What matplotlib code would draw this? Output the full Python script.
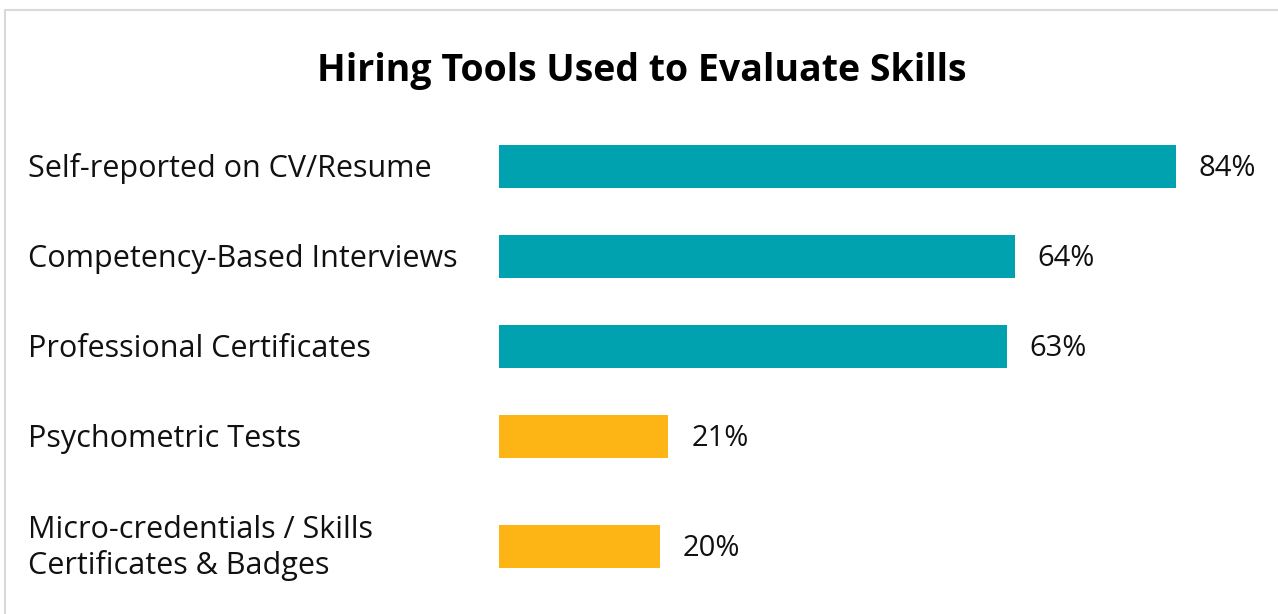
import matplotlib.pyplot as plt
from matplotlib.patches import Rectangle
from matplotlib.transforms import blended_transform_factory, offset_copy

plt.rcParams['font.family'] = ['Open Sans', 'DejaVu Sans']

title = "Hiring Tools Used to Evaluate Skills"
categories = ["Self-reported on CV/Resume",
              "Competency-Based Interviews",
              "Professional Certificates",
              "Psychometric Tests",
              "Micro-credentials / Skills\nCertificates & Badges"]
values = [84, 64, 63, 21, 20]
colors = ["#01A2B0", "#01A2B0", "#01A2B0", "#FDB515", "#FDB515"]

# row layout: last label spans two lines, so it gets a bit more room
rows = [0, 1, 2, 3, 4.22]

W, H = 1278, 614
fig = plt.figure(figsize=(W / 100, H / 100), dpi=100)
fig.patch.set_facecolor('white')

# light grey frame round the card
fig.patches.append(Rectangle((5 / W, -0.1), 1.2, (H - 10) / H + 0.1,
                             transform=fig.transFigure, fill=False,
                             edgecolor='#d9d9d9', linewidth=1.5))

fig.text(642 / W, 1 - 71 / H, title, ha='center', va='center',
         fontsize=27, fontweight='bold', color='black')

# axes: left edge at bar start, rows 90 px apart
top_px = 121.5
ax = fig.add_axes([499 / W, 0, (W - 499) / W, (H - top_px) / H])
ax.set_ylim((H - top_px) / 90 - 0.5, -0.5)
ax.set_xlim(0, 84 * (W - 499) / 677)
ax.axis('off')

ax.barh(rows, values, height=0.48, color=colors)

trans = blended_transform_factory(fig.transFigure, ax.transData)
trans = offset_copy(trans, fig=fig, y=-1.5, units='points')
for y, cat, v in zip(rows, categories, values):
    ax.text(28 / W, y, cat, transform=trans, ha='left', va='center',
            fontsize=22, color='#111111', linespacing=1.2)
    ax.annotate(f"{v}%", (v, y), xytext=(16.5, -1.5), textcoords='offset points',
                ha='left', va='center', fontsize=21, color='#111111')

fig.savefig('out.png', dpi=100, facecolor='white')
